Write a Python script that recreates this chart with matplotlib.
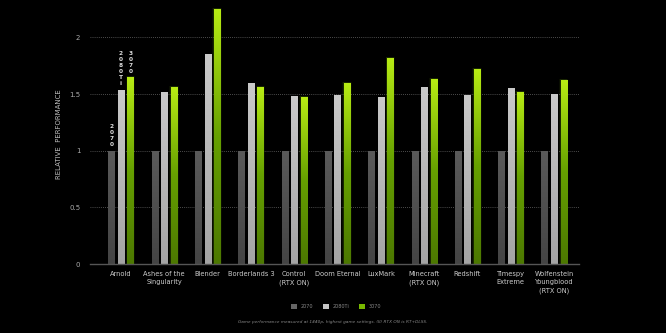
import numpy as np
import matplotlib
matplotlib.use("Agg")
import matplotlib.pyplot as plt
from matplotlib.patches import Patch
from matplotlib.colors import LinearSegmentedColormap

categories = ["Arnold", "Ashes of the\nSingularity", "Blender", "Borderlands 3",
              "Control\n(RTX ON)", "Doom Eternal", "LuxMark", "Minecraft\n(RTX ON)",
              "Redshift", "Timespy\nExtreme", "Wolfenstein\nYoungblood\n(RTX ON)"]
series_names = ["2070", "2080Ti", "3070"]
v2070 = [1, 1, 1, 1, 1, 1, 1, 1, 1, 1, 1]
v2080ti = [1.54, 1.52, 1.85, 1.60, 1.48, 1.49, 1.47, 1.56, 1.49, 1.55, 1.50]
v3070 = [1.65, 1.56, 2.25, 1.56, 1.47, 1.60, 1.82, 1.63, 1.72, 1.52, 1.62]
yticks = [0, 0.5, 1, 1.5, 2]
yticklabels = ["0", "0.5", "1", "1.5", "2"]

bg = "#000000"
fig = plt.figure(figsize=(6.66, 3.33), dpi=100, facecolor=bg)
ax = fig.add_axes([0.1351, 0.2072, 0.7343, 0.7826], facecolor=bg)

x = np.arange(len(categories))
off = 0.22
w = 0.14

grads = [
    LinearSegmentedColormap.from_list("g1", ["#444444", "#5a5a5a"]),
    LinearSegmentedColormap.from_list("g2", ["#a4a4a4", "#cacaca"]),
    LinearSegmentedColormap.from_list("g3", ["#4c7800", "#66a000", "#b8ec14"]),
]
grad = np.linspace(0, 1, 256).reshape(-1, 1)

for k, vals in enumerate([v2070, v2080ti, v3070]):
    xs = x + (k - 1) * off
    if k == 2:
        # soft glow around the green bars
        for gw, ga in [(w + 0.08, 0.07), (w + 0.04, 0.13)]:
            ax.bar(xs, [v + 0.01 for v in vals], width=gw, color="#8cd000", alpha=ga,
                   zorder=2, linewidth=0)
    bars = ax.bar(xs, vals, width=w, color="none", linewidth=0, zorder=3)
    for b in bars:
        x0, y0 = b.get_x(), b.get_y()
        im = ax.imshow(grad, extent=[x0, x0 + b.get_width(), y0, y0 + b.get_height()],
                       origin="lower", aspect="auto", cmap=grads[k], zorder=3,
                       interpolation="bicubic")
        im.set_clip_path(b)

# stacked vertical labels above the Arnold bars
for k, vals in enumerate([v2070, v2080ti, v3070]):
    ax.text(x[0] + (k - 1) * off, vals[0] + 0.03, "\n".join(series_names[k]),
            ha="center", va="bottom", fontsize=4.2, color="#dddddd",
            linespacing=1.25, fontweight="bold", zorder=4)

ax.set_xlim(-0.716, 10.577)
ax.set_ylim(0, 2.3)
ax.set_yticks(yticks)
ax.set_yticklabels(yticklabels)
ax.tick_params(axis="y", length=0, pad=7, labelsize=5, labelcolor="#aaaaaa")
ax.set_xticks(x)
ax.set_xticklabels(categories, fontsize=4.8, color="#cccccc", linespacing=1.5)
ax.tick_params(axis="x", length=0, pad=5)
for yv in yticks[1:]:
    ax.axhline(yv, color="#666666", linestyle=(0, (1, 1.5)), linewidth=0.6, zorder=1)
for s in ["top", "right", "left"]:
    ax.spines[s].set_visible(False)
ax.spines["bottom"].set_color("#555555")
ax.spines["bottom"].set_linewidth(1.0)
ax.spines["bottom"].set_zorder(5)

ax.set_ylabel("RELATIVE  PERFORMANCE", fontsize=5, color="#bbbbbb", labelpad=5)

handles = [Patch(facecolor=c, edgecolor="none") for c in ["#666666", "#c4c4c4", "#78b800"]]
fig.legend(handles, series_names, loc="center", bbox_to_anchor=(0.505, 0.08),
           ncol=3, frameon=False, fontsize=3.5, labelcolor="#888888",
           handlelength=1.2, handleheight=1.2, handletextpad=0.8, columnspacing=2.0)

fig.text(0.5, 0.033, "Game performance measured at 1440p, highest game settings. (II) RTX ON is RT+DLSS.",
         ha="center", va="center", fontsize=3.1, color="#888888", style="italic")

fig.savefig("out.png", dpi=100, facecolor=bg)
